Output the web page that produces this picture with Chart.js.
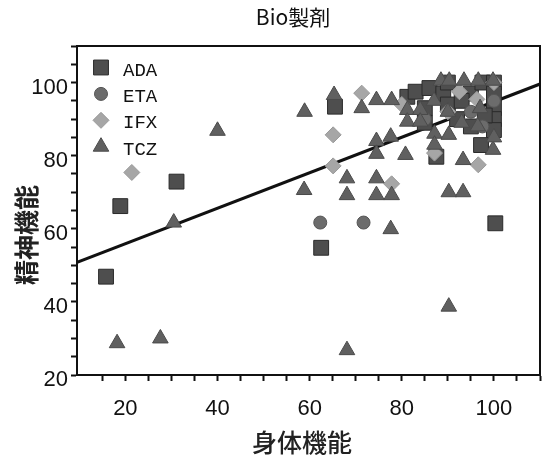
<!DOCTYPE html>
<html>
<head>
<meta charset="utf-8">
<script src="https://cdn.jsdelivr.net/npm/chart.js@4/dist/chart.umd.min.js"></script>
<style>
  html, body { margin: 0; padding: 0; background: #fff; }
  #wrap { width: 555px; height: 464px; }
</style>
</head>
<body>
<div id="wrap"><canvas id="chartContainer" width="555" height="464"></canvas></div>
<script>
// x = 身体機能 (physical), y = 精神機能 (mental)
const adaPhys   = [15.8, 18.9, 31.1, 62.5, 65.5, 100.3, 87.5, 97.2, 81.2, 83, 86, 89, 85, 90, 95, 97.5, 100, 100, 100, 100, 100, 98, 92, 95, 85, 90, 93];
const adaMental = [46.9, 66.2, 72.9, 54.8, 93.4, 61.5, 79.7, 82.9, 96.1, 97.5, 98.5, 97, 93, 94, 97, 100, 100, 97, 93, 90, 87, 91, 90, 88, 89, 100, 95];

const etaPhys   = [62.3, 71.7, 95, 100, 85, 97.5];
const etaMental = [61.7, 61.7, 92, 95, 90, 88];

const ifxPhys   = [21.4, 65.1, 65.1, 71.3, 77.8, 87.1, 96.6, 96.3, 80, 90, 100, 92.5];
const ifxMental = [75.4, 85.7, 77.2, 97.1, 72.3, 80.7, 77.5, 95.4, 94, 92, 100, 97.5];

const tczPhys   = [18.2, 27.6, 30.5, 40, 58.8, 58.9, 65.3, 71.3, 74.5, 77.8, 74.5, 74.5, 77.6, 80.8, 68.1, 68.1, 74.5, 74.5, 77.8, 77.6, 90.2, 93.3, 99.8, 90.2, 68.1, 87.1, 87.1, 90.2, 93.3, 88.5, 90.3, 93.5, 96.6, 99.8, 81.2, 84, 81.2, 84, 90, 93, 96.5, 100, 97, 87];
const tczMental = [28.7, 30, 61.7, 86.8, 70.6, 92, 96.6, 93, 95.2, 95.2, 84, 80.5, 85.2, 80.2, 73.8, 69.2, 73.8, 69.2, 69.2, 59.9, 70, 70, 81.6, 38.7, 26.8, 86, 83, 85.7, 78.8, 100.5, 100.5, 100.5, 100.5, 100.5, 92.5, 92.5, 89.3, 89.3, 92, 89, 88, 85, 93, 95];

// regression line end points (at the axis limits)
const fitPhys   = [9.5, 110];
const fitMental = [50.8, 99.6];

const seriesNames = ['ADA', 'ETA', 'IFX', 'TCZ'];
const xTickLabels = [20, 40, 60, 80, 100];
const yTickLabels = [20, 40, 60, 80, 100];

function pts(xs, ys) {
  return xs.map((x, i) => ({ x: x, y: ys[i] }));
}

// legend drawn inside the plot, top left
const insideLegend = {
  id: 'insideLegend',
  afterDatasetsDraw(chart) {
    const ctx = chart.ctx;
    const area = chart.chartArea;
    ctx.save();
    let row = 0;
    chart.data.datasets.forEach((ds) => {
      if (!ds.label) return;
      const y = area.top + 24.5 + row * 26.4;
      ctx.fillStyle = ds.backgroundColor;
      ctx.strokeStyle = ds.borderColor;
      ctx.lineWidth = 1;
      Chart.helpers.drawPoint(ctx, { pointStyle: ds.pointStyle, radius: ds.pointRadius, borderWidth: 1 }, area.left + 24, y - 3);
      ctx.fillStyle = '#111';
      ctx.font = '19px "Liberation Mono", "DejaVu Sans Mono", monospace';
      ctx.textBaseline = 'middle';
      ctx.fillText(ds.label, area.left + 46, y);
      row++;
    });
    ctx.restore();
  }
};

// frame round the plot, chart title and axis titles
const frameAndTitles = {
  id: 'frameAndTitles',
  afterDraw(chart) {
    const a = chart.chartArea;
    const ctx = chart.ctx;
    ctx.save();
    ctx.strokeStyle = '#111';
    ctx.lineWidth = 2;
    ctx.strokeRect(a.left, a.top, a.right - a.left, a.bottom - a.top);

    ctx.fillStyle = '#111';
    ctx.textAlign = 'center';
    ctx.textBaseline = 'middle';
    ctx.font = '21px "Noto Sans CJK JP", sans-serif';
    ctx.fillText('Bio製剤', 293, 17);

    ctx.fillStyle = '#222';
    ctx.font = '500 25px "Noto Sans CJK JP", sans-serif';
    ctx.fillText('身体機能', 302, 442);

    ctx.translate(26.5, 235);
    ctx.rotate(-Math.PI / 2);
    ctx.font = 'bold 25px "Noto Sans CJK JP", sans-serif';
    ctx.fillText('精神機能', 0, 0);
    ctx.restore();
  }
};

const tickFont = { family: '"Liberation Sans", Arial, sans-serif', size: 22 };

const chart = new Chart(document.getElementById('chartContainer'), {
  type: 'scatter',
  data: {
    datasets: [
      {
        type: 'line',
        data: pts(fitPhys, fitMental),
        borderColor: '#111',
        borderWidth: 3,
        pointRadius: 0,
        fill: false,
        order: 5
      },
      { label: seriesNames[0], data: pts(adaPhys, adaMental), pointStyle: 'rect', pointRadius: 10.5, backgroundColor: '#4e4e4e', borderColor: '#2a2a2a', borderWidth: 1, order: 4 },
      { label: seriesNames[1], data: pts(etaPhys, etaMental), pointStyle: 'circle', pointRadius: 6.5, backgroundColor: '#6c6c6c', borderColor: '#555', borderWidth: 1, order: 3 },
      { label: seriesNames[2], data: pts(ifxPhys, ifxMental), pointStyle: 'rectRot', pointRadius: 8, backgroundColor: '#a6a6a6', borderColor: '#999', borderWidth: 1, order: 2 },
      { label: seriesNames[3], data: pts(tczPhys, tczMental), pointStyle: 'triangle', pointRadius: 9, backgroundColor: '#606060', borderColor: '#4a4a4a', borderWidth: 1, order: 1 }
    ]
  },
  options: {
    responsive: false,
    animation: false,
    devicePixelRatio: 1,
    layout: { padding: { left: 0, right: 2, top: 46, bottom: 0 } },
    plugins: {
      legend: { display: false },
      tooltip: { enabled: false },
      title: { display: false }
    },
    scales: {
      x: {
        type: 'linear',
        min: 9.5,
        max: 110,
        afterFit: s => { s.height = 89; },
        afterBuildTicks: s => { s.ticks = s.ticks.filter(t => t.value % 5 === 0); },
        border: { display: true, color: '#111', width: 2 },
        grid: { drawOnChartArea: false, drawTicks: true, tickLength: 6, color: '#111', tickWidth: 2 },
        ticks: {
          stepSize: 5,
          autoSkip: false,
          maxRotation: 0,
          padding: 15,
          color: '#111',
          font: tickFont,
          callback: v => xTickLabels.includes(v) ? String(v) : ''
        }
      },
      y: {
        type: 'linear',
        min: 20,
        max: 110,
        afterFit: s => { s.width = 77; },
        afterBuildTicks: s => { s.ticks = s.ticks.filter(t => t.value % 5 === 0); },
        border: { display: true, color: '#111', width: 2 },
        grid: { drawOnChartArea: false, drawTicks: true, tickLength: 6, color: '#111', tickWidth: 2 },
        ticks: {
          stepSize: 5,
          autoSkip: false,
          padding: 3,
          labelOffset: 5,
          color: '#111',
          font: tickFont,
          callback: v => yTickLabels.includes(v) ? String(v) : ''
        }
      }
    }
  },
  plugins: [insideLegend, frameAndTitles]
});
</script>
</body>
</html>
